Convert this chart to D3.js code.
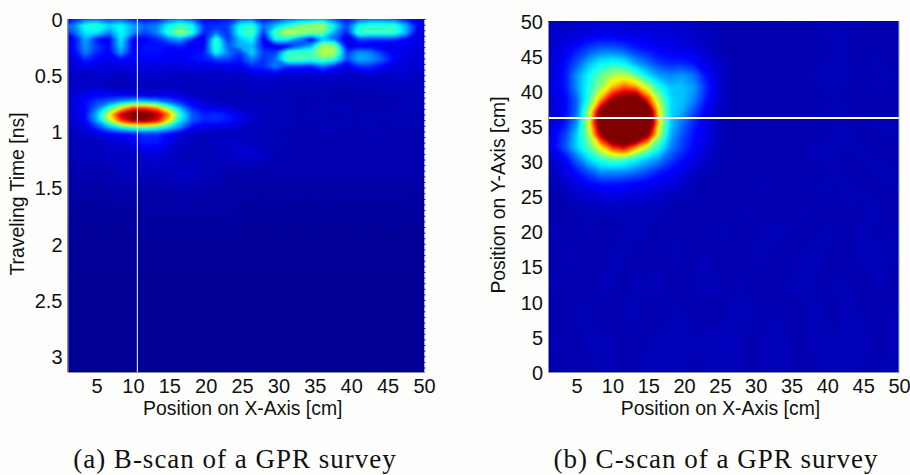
<!DOCTYPE html>
<html><head><meta charset="utf-8">
<script src="https://cdnjs.cloudflare.com/ajax/libs/d3/7.8.5/d3.min.js"></script>
<style>html,body{margin:0;padding:0;background:#fefefd}svg{display:block}
.tick text,.lab{font-family:"Liberation Sans",Arial,sans-serif;fill:#111}
.cap{font-family:"Liberation Serif","DejaVu Serif",serif;fill:#111}</style>
</head><body>
<svg id="c" width="910" height="475"></svg>
<script>
const xTicks=[5,10,15,20,25,30,35,40,45,50];
const bTimeTicks=[0,0.5,1,1.5,2,2.5,3];
const cYTicks=[0,5,10,15,20,25,30,35,40,45,50];
const bRowTimes=[0,.06,.12,.18,.24,.30,.36,.42,.5,.6,.68,.74,.80,.85,.90,.96,1.02,1.1,1.2,1.35,1.5,1.7,2.0,2.5,3.14];
const bScan=[
[16,22,24,20,22,16,14,16,22,26,22,14,14,16,22,24,15,18,24,26,28,30,22,16,22,24,24,22,16,12],
[26,40,42,34,38,30,24,26,38,44,38,18,18,20,38,42,24,32,40,48,52,54,36,20,38,42,42,42,30,13],
[22,36,36,26,38,28,20,26,42,54,42,16,24,18,40,46,18,46,56,54,50,48,28,16,44,44,44,44,30,11],
[12,30,15,12,36,12,13,17,24,28,17,11,42,18,32,38,11,38,38,24,11,30,24,9,20,18,18,18,14,10],
[14,28,19,14,34,13,15,15,15,17,13,13,44,22,30,32,15,11,11,22,30,54,50,11,12,12,11,11,12,10],
[12,26,17,13,28,14,15,15,13,13,14,16,38,26,18,34,19,20,42,44,44,56,54,20,28,26,18,13,12,10],
[10,18,14,12,15,14,13,14,13,13,15,16,20,20,16,26,18,24,44,44,42,46,40,20,30,28,22,14,10,9],
[9,12,11,10,10,11,10,11,10,10,11,11,10,13,12,18,18,26,18,18,16,24,16,11,18,18,14,10,10,9],
[8,7,8,8,7,9,8,8,8,7,8,8,7,8,7,9,10,9,8,8,8,8,8,8,7,8,7,8,9,7],
[8,8,8,6,6,7,7,6,7,7,6,6,7,7,6,7,7,7,7,6,6,6,6,6,7,7,6,7,7,7],
[9,12,14,14,13,12,10,11,12,10,8,7,6,6,6,6,6,6,6,6,6,6,5,5,5,5,6,6,6,6],
[11,15,20,24,30,34,34,30,24,18,12,9,8,7,6,6,6,6,6,5,5,6,6,6,5,5,5,5,6,6],
[9,14,26,44,66,84,84,76,52,32,18,13,12,10,8,7,7,6,6,6,6,6,6,6,5,5,6,6,6,6],
[9,15,32,60,92,105,105,96,74,40,22,17,18,16,11,8,7,6,6,6,6,6,5,6,6,6,6,6,6,5],
[9,14,30,54,82,96,98,90,64,36,22,17,18,16,12,8,7,6,6,5,6,6,6,6,5,6,6,6,6,6],
[8,11,20,30,40,46,48,44,36,26,14,11,10,10,8,7,7,6,6,6,5,6,6,6,6,6,5,6,6,6],
[6,8,10,13,14,16,18,18,14,10,8,7,7,7,6,6,6,6,5,5,5,6,6,5,5,6,6,5,5,5],
[6,7,7,8,9,12,16,16,12,8,7,6,7,8,8,7,6,6,6,5,5,5,5,5,5,5,5,5,5,5],
[6,7,7,8,7,7,9,10,8,6,6,6,7,7,9,9,8,6,5,5,5,5,5,5,5,5,5,5,5,5],
[5,5,5,5,7,8,7,7,7,8,8,7,6,5,5,5,5,5,5,5,5,5,5,5,5,5,5,5,5,5],
[4,5,4,5,5,5,4,5,5,6,5,5,5,4,4,4,4,4,4,4,4,4,4,4,4,4,4,4,4,4],
[3.4,3.4,3.6,3.4,3.4,3.6,4,4,4,4,4,4,4,4,3.6,3.4,3.4,3.6,3.4,3.4,3.4,3.6,3.4,3.4,3.6,3.4,3.4,3.6,3.4,3.4],
[2.8,2.8,2.9,2.8,2.8,2.9,2.8,2.8,2.9,2.8,2.8,2.9,2.8,2.8,2.9,2.8,2.8,2.9,2.8,2.8,2.9,2.8,2.8,2.9,2.8,2.8,2.9,2.8,2.8,2.9],
[2.3,2.3,2.3,2.3,2.3,2.3,2.3,2.3,2.3,2.3,2.3,2.3,2.3,2.3,2.3,2.3,2.3,2.3,2.3,2.3,2.3,2.3,2.3,2.3,2.3,2.3,2.3,2.3,2.3,2.3],
[2,2,2,2,2,2,2,2,2,2,2,2,2,2,2,2,2,2,2,2,2,2,2,2,2,2,2,2,2,2]];
const cRowY=[50,48,46,44,42.3,40.6,38.9,37.2,35.5,33.8,32,30.3,28.6,26.9,25.2,23,20.2,16.7,12.4,8.1,3.8,0];
const cScan=[
[7,7,8,8,8,9,8,7,8,8,8,8,7,6,5,5,5,6,6,5,5,6,6,5,6,5,6,5,6,6],
[8,9,10,11,12,12,11,11,11,10,10,9,8,7,6,5,5,5,5,5,6,5,5,6,6,6,5,5,5,5],
[9,12,16,20,23,23,21,17,15,13,12,11,10,8,6,5,6,5,5,6,5,5,6,5,6,6,5,6,5,6],
[10,15,22,31,37,39,37,29,24,19,17,17,15,11,8,6,5,5,5,5,6,5,5,6,6.5,6,5,6,6,5],
[10,16,28,38,47,54,55,46,35,28,26,28,24,15,9,6,5,5,6,5,5,5,6,6,6,6.5,5,5,6,6],
[11,16,28,40,52,68,78,72,56,40,32,32,28,18,10,6,5,5,5,6,5,5,5,6,6,6,5,6,6,5],
[10,14,24,42,70,96,106,112,82,52,34,32,26,16,9,6,5,6,5,5,6,5,5,5,6,5,6,5,5,6],
[9,14,24,52,100,130,130,130,115,60,34,30,21,13,8,6,5,5,5,5,5,6,5,6,6,6,5,5,6,5],
[10,16,28,58,110,130,130,130,125,60,32,24,17,11,7,5,5,5,6,5,5,5,6,5,6,6,5,6,6,6],
[13,20,34,52,95,130,130,128,100,54,30,21,15,11,7,5,5,5,5,6,5,6,5,5,6,6,6,5,6,6],
[13,22,34,46,62,82,90,72,54,40,26,19,14,10,7,5,5,5,5,5,6,5,6,6,6.5,6,6,5,5,5],
[9,14,24,34,42,46,44,38,32,27,20,15,11,8,6,5,6,5,5,5,5,5,6,6,6,5,6,6,6,5],
[7,11,16,22,28,28,27,25,21,17,14,11,8,6,6,5,5,5,5,6,5,5,5,5,6,5,5,6,6,6],
[6,8,11,14,16,16,15,14,13,12,10,8,6,5,5,5,5,5,6,5,5,6,6,6,6,6,5,5,6,6],
[5,6,8,9,10,11,10,10,9,8,7,6,6,5,5,6,5,5,6,5,6,5,5,6,5,6,6,6,5,5],
[5,5,6,6,6,6,6.5,6,6,6,5,5,5,6,5,5,6,6,5,5,5,6,6,5,5,6,5,6.5,6,5],
[6,5,5,6,5,5,6,6.5,6,5,6,5,5,5,6,6,5,5,6,6.5,6,5,5,6,6,5,6,6,5,6],
[5,6,6,5,5,6,6,5,5,5,6,6,5,6,5,5,5,6,6,5,5,6,6.5,6,5,5,6,6.5,6,6],
[6,5,5,5,6,6,5,6,6,6.5,5,5,6,6,6,5,6,5,5,5,6,6,6,5,6,6,5,5,6,5],
[5,5,6,6,5,5,6,6,5,5,6,6,5,5,5,6.5,6,6,5,6,5,5,6,6,5,6,6,5,5,6],
[6,5,5,6,6,6.5,5,5,6,6.5,6.5,6,6,6.5,6.5,7,6,5,6.5,6.5,6,5,6,6.5,6,6.5,6.5,6,5,6],
[5,6,6,5,6,6,5,6,6,6,6,6,5,6,6,6,6,5,6,6,6,5,5,6,6,6,6,5,6,6]];
const captions=["(a) B-scan of a GPR survey","(b) C-scan of a GPR survey"];
const bLineX=[10.6], cLineY=[36.2];

const jet=d3.scaleLinear()
  .domain([0,14,37.5,62.5,87.5,100])
  .range(["#000080","#0000ff","#00ffff","#ffff00","#ff0000","#800000"])
  .clamp(true);
const levels=d3.range(0,100.01,.625);
const svg=d3.select("#c");
const defs=svg.append("defs");
defs.append("filter").attr("id","soft").attr("x","-2%").attr("y","-2%").attr("width","104%").attr("height","104%")
  .attr("color-interpolation-filters","sRGB")
  .append("feGaussianBlur").attr("stdDeviation",1.2).attr("edgeMode","duplicate");

function heat(id,grid,rows,x,y){
  const n=grid[0].length,m=grid.length;
  const [x0,x1]=x.range(),[yTop,yBot]=y.range().slice().sort(d3.ascending);
  const sx=d3.scaleLinear().domain([0,n]).range([x0,x1]);
  const idx=[0,...d3.range(m).map(i=>i+.5),m];
  const sr=d3.scaleLinear().domain(idx).range([rows[0],...rows,rows[m-1]]);
  const path=d3.geoPath(d3.geoTransform({point(a,b){this.stream.point(sx(a),y(sr(b)));}}));
  const gen=d3.contours().size([n,m]).thresholds(levels).smooth(true);
  defs.append("clipPath").attr("id",id).append("rect").attr("x",x0).attr("y",yTop).attr("width",x1-x0).attr("height",yBot-yTop);
  const outer=svg.append("g").attr("clip-path",`url(#${id})`);
  const g=outer.append("g").attr("filter","url(#soft)");
  g.append("rect").attr("x",x0-8).attr("y",yTop-8).attr("width",x1-x0+16).attr("height",yBot-yTop+16).attr("fill",jet(0));
  g.selectAll("path").data(gen(grid.flat())).join("path")
    .attr("d",path).attr("fill",d=>jet(d.value+.3)).attr("stroke",d=>jet(d.value+.3)).attr("stroke-width",.4);
}
function axes(x,y,yt,yfmt,xTitle,yTitle,yTitleX,yTitleY){
  const g=svg.append("g");
  const ax=g.append("g").attr("transform",`translate(0,${y.range()[0]})`)
    .call(d3.axisBottom(x).tickValues(xTicks).tickSize(0).tickPadding(5));
  const ay=g.append("g").attr("transform",`translate(${x.range()[0]},0)`)
    .call(d3.axisLeft(y).tickValues(yt).tickSize(0).tickPadding(5).tickFormat(yfmt));
  [ax,ay].forEach(a=>{a.select(".domain").attr("stroke","#8a8f9c").attr("stroke-width",1);
    a.selectAll("text").attr("font-size",20).attr("fill","#111");});
  ax.selectAll("text").attr("dy","0.8em");
  ay.selectAll("text").attr("dy","0.36em");
  const mid=d3.mean(x.range());
  g.append("text").attr("class","lab").attr("x",mid-3).attr("y",415).attr("text-anchor","middle").attr("font-size",19.4).text(xTitle);
  g.append("text").attr("class","lab").attr("transform",`translate(${yTitleX},${yTitleY}) rotate(-90)`).attr("text-anchor","middle").attr("font-size",19.4).text(yTitle);
}

// B-scan
const xA=d3.scaleLinear().domain([1,50]).range([67.5,424]);
const yA=d3.scaleLinear().domain([0,3.14]).range([19,372]);
heat("cA",bScan,bRowTimes,xA,yA);
svg.selectAll("line.a").data(bLineX).join("line").attr("class","a")
  .attr("x1",d=>xA(d)).attr("x2",d=>xA(d)).attr("y1",yA(0)).attr("y2",yA(3.14)).attr("stroke","#fff").attr("stroke-width",1);
const yAx=d3.scaleLinear().domain([3.14,0]).range([372,19]);
axes(xA,yAx,bTimeTicks,d=>String(d),"Position on X-Axis [cm]","Traveling Time [ns]",24,194);
const rA=svg.append("g").attr("transform","translate(424,0)")
  .call(d3.axisRight(yA).tickValues(d3.range(0,3.14,.05)).tickSize(1.5).tickFormat(""));
rA.select(".domain").attr("stroke","#9db0e8");
rA.selectAll("line").attr("stroke","#223");

// C-scan
const xB=d3.scaleLinear().domain([1,50]).range([548,899]);
const yB=d3.scaleLinear().domain([0,50]).range([372,21]);
heat("cB",cScan,cRowY,xB,yB);
svg.selectAll("line.b").data(cLineY).join("line").attr("class","b")
  .attr("x1",xB(1)).attr("x2",xB(50)).attr("y1",d=>yB(d)).attr("y2",d=>yB(d)).attr("stroke","#fff").attr("stroke-width",2);
axes(xB,yB,cYTicks,d=>String(d),"Position on X-Axis [cm]","Position on Y-Axis [cm]",505,195);
svg.append("line").attr("x1",899).attr("x2",899).attr("y1",21).attr("y2",372).attr("stroke","#9db0e8");

// captions
svg.selectAll("text.cap").data(captions).join("text").attr("class","cap")
  .attr("x",(d,i)=>[235,716][i]).attr("y",468).attr("text-anchor","middle").attr("font-size",27).attr("letter-spacing",1).text(d=>d);
</script>
</body></html>
